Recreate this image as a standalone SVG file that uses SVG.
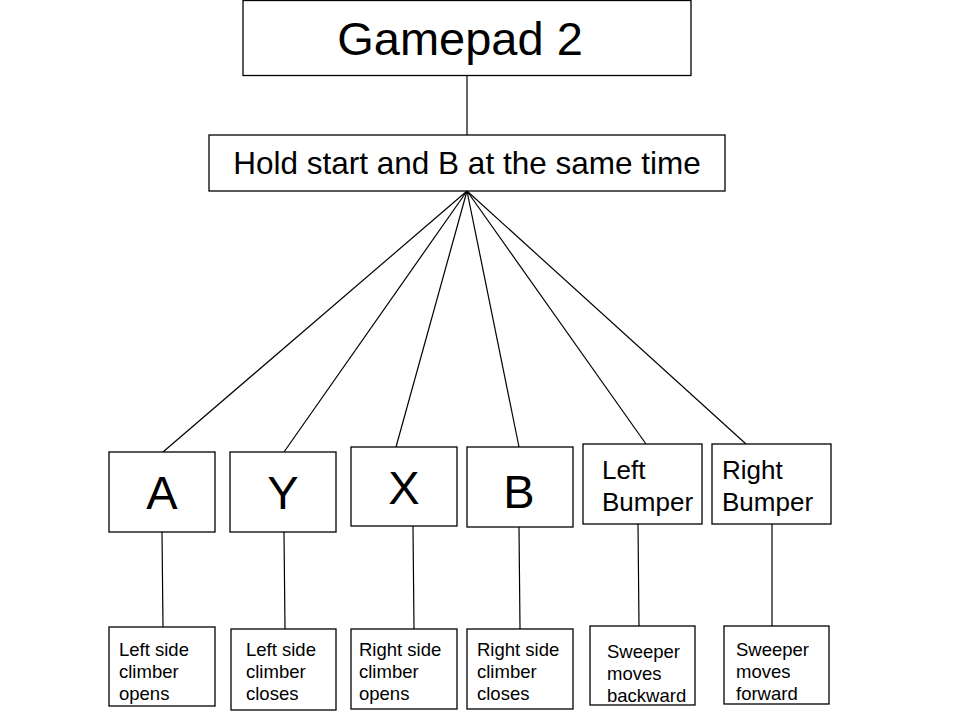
<svg xmlns="http://www.w3.org/2000/svg" width="960" height="720" viewBox="0 0 960 720">
<style>
rect{fill:#fff;stroke:#000;stroke-width:1.3}
text{font-family:"Liberation Sans",Arial,sans-serif;fill:#000}
.big{font-size:47px;text-anchor:middle}
.mid{font-size:26px}
.sm{font-size:18.5px}
#connectors line{stroke:#000;stroke-width:1.2}
</style>
<rect x="0" y="0" width="960" height="720" style="fill:#fff;stroke:none"/>
<g id="connectors">
<line x1="467" y1="75" x2="467" y2="135"/>
<line x1="467" y1="191" x2="163" y2="452"/>
<line x1="467" y1="191" x2="284" y2="452"/>
<line x1="467" y1="191" x2="396" y2="447"/>
<line x1="467" y1="191" x2="519" y2="447"/>
<line x1="467" y1="191" x2="646" y2="444"/>
<line x1="467" y1="191" x2="746" y2="444"/>
<line x1="162" y1="532" x2="163" y2="627"/>
<line x1="284" y1="532" x2="285" y2="629"/>
<line x1="413" y1="526" x2="414" y2="629"/>
<line x1="519" y1="527" x2="520" y2="629"/>
<line x1="638" y1="524" x2="639" y2="626"/>
<line x1="772" y1="524" x2="772" y2="626"/>
</g>
<g id="gamepad2"><rect x="243" y="0.5" width="448" height="75"/><text class="big" x="460" y="55">Gamepad 2</text></g>
<g id="hold"><rect x="209" y="135" width="516" height="56"/><text x="467" y="174" style="font-size:31.5px;text-anchor:middle">Hold start and B at the same time</text></g>
<g id="btnA"><rect x="109" y="452" width="106" height="80"/><text class="big" x="162" y="509">A</text></g>
<g id="btnY"><rect x="230" y="452" width="106" height="80"/><text class="big" x="283" y="509">Y</text></g>
<g id="btnX"><rect x="351" y="447" width="106" height="79"/><text class="big" x="404" y="504">X</text></g>
<g id="btnB"><rect x="467" y="447" width="106" height="80"/><text class="big" x="519" y="508">B</text></g>
<g id="leftBumper"><rect x="583" y="444" width="119" height="80"/><text class="mid" x="602" y="479">Left</text><text class="mid" x="602" y="511">Bumper</text></g>
<g id="rightBumper"><rect x="712" y="444" width="119" height="80"/><text class="mid" x="722" y="479">Right</text><text class="mid" x="722" y="511">Bumper</text></g>
<g id="actA"><rect x="109" y="627" width="106" height="79"/><text class="sm" x="119" y="656">Left side</text><text class="sm" x="119" y="678">climber</text><text class="sm" x="119" y="700">opens</text></g>
<g id="actY"><rect x="231" y="629" width="105" height="81"/><text class="sm" x="246" y="656">Left side</text><text class="sm" x="246" y="678">climber</text><text class="sm" x="246" y="700">closes</text></g>
<g id="actX"><rect x="351" y="629" width="106" height="80"/><text class="sm" x="359" y="656">Right side</text><text class="sm" x="359" y="678">climber</text><text class="sm" x="359" y="700">opens</text></g>
<g id="actB"><rect x="467" y="629" width="106" height="80"/><text class="sm" x="477" y="656">Right side</text><text class="sm" x="477" y="678">climber</text><text class="sm" x="477" y="700">closes</text></g>
<g id="actLB"><rect x="590" y="626" width="105" height="79"/><text class="sm" x="607" y="658">Sweeper</text><text class="sm" x="607" y="680">moves</text><text class="sm" x="607" y="702">backward</text></g>
<g id="actRB"><rect x="724" y="626" width="105" height="78"/><text class="sm" x="736" y="656">Sweeper</text><text class="sm" x="736" y="678">moves</text><text class="sm" x="736" y="700">forward</text></g>
</svg>
